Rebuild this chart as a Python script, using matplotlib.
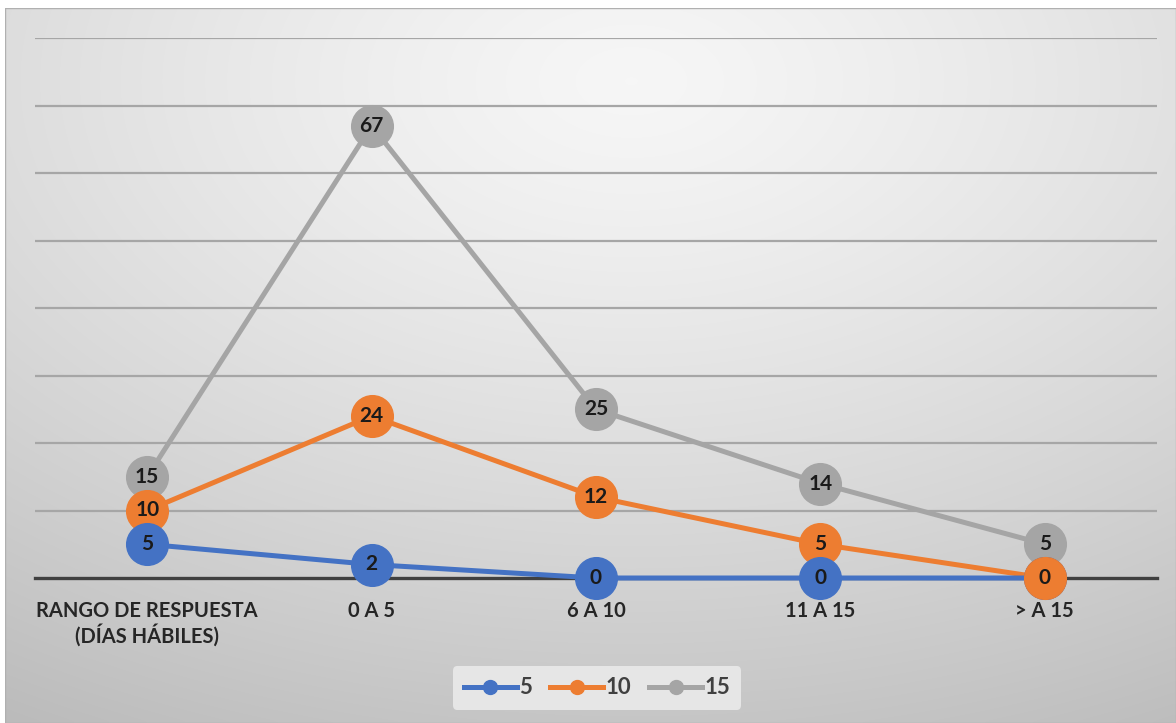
import numpy as np
import matplotlib
matplotlib.use("Agg")
import matplotlib.pyplot as plt
from matplotlib.lines import Line2D

categories = ["RANGO DE RESPUESTA\n(DÍAS HÁBILES)", "0 A 5", "6 A 10", "11 A 15", "> A 15"]
series_names = ["5", "10", "15"]
s5 = [5, 2, 0, 0, 0]
s10 = [10, 24, 12, 5, 0]
s15 = [15, 67, 25, 14, 5]
colors = ["#4472C4", "#ED7D31", "#A5A5A5"]

plt.rcParams['font.family'] = ['Lato', 'DejaVu Sans']

W, H = 1176, 723
fig = plt.figure(figsize=(W/100, H/100), dpi=100)
fig.patch.set_facecolor("white")

# background gradient panel
bg = fig.add_axes([5/W, 0, 1 - 5/W, 1 - 8/H])
bg.set_axis_off()
yy, xx = np.mgrid[0:200, 0:300]
cx, cy = 160, 20
r = np.sqrt(((xx - cx) / 300) ** 2 + ((yy - cy) / 200) ** 2)
val = 0.965 - 0.22 * np.clip(r, 0, 1.2) ** 1.3
img = np.dstack([val, val, val])
bg.imshow(img, aspect='auto', extent=[0, 1, 0, 1], origin='upper', interpolation='bicubic')
bg.set_xlim(0, 1); bg.set_ylim(0, 1)
bg.plot([0, 1, 1, 0, 0], [0, 0, 1, 1, 0], color="#b0b0b0", lw=1)

ax = fig.add_axes([35/W, 1 - 578/H, (1157-35)/W, (578-38)/H])
ax.set_facecolor("none")
x = np.arange(len(categories))
ax.set_xlim(-0.5, len(categories) - 0.5)
ax.set_ylim(0, 80)
ax.set_yticks(np.arange(10, 81, 10))
ax.yaxis.grid(True, color="#a6a6a6", lw=1.6)
ax.set_axisbelow(True)
for sp in ax.spines.values():
    sp.set_visible(False)
ax.axhline(0, color="#404040", lw=2.4, zorder=2, clip_on=False)
ax.tick_params(axis='y', left=False, labelleft=False)
ax.tick_params(axis='x', bottom=False, pad=13)
ax.set_xticks(x)
ax.set_xticklabels(categories, fontsize=14.5, fontweight='bold', color="#262626", linespacing=1.15)
for lbl in ax.get_xticklabels():
    lbl.set_verticalalignment('top')

zorders = [5, 4, 3]
for vals, col, z in zip([s5, s10, s15], colors, zorders):
    ax.plot(x, vals, color=col, lw=3.6, marker='o', markersize=30, zorder=z,
            clip_on=False, solid_capstyle='round')
for vals, z in zip([s5, s10, s15], zorders):
    for xi, v in zip(x, vals):
        ax.text(xi, v, str(v), ha='center', va='center', fontsize=15, fontweight='bold',
                color="#1a1a1a", zorder=z + 0.5)
# orange marker of last category sits on top of the blue one
ax.plot(x[-1:], s10[-1:], color=colors[1], marker='o', markersize=30, lw=0, zorder=6, clip_on=False)
ax.text(x[-1], s10[-1], str(s10[-1]), ha='center', va='center', fontsize=15, fontweight='bold',
        color="#1a1a1a", zorder=6.5)

handles = [Line2D([0], [0], color=c, lw=3.6, marker='o', markersize=10) for c in colors]
leg = fig.legend(handles, series_names, loc='center', bbox_to_anchor=(597/W, 1 - 688/H),
                 ncol=3, frameon=True, fontsize=16, handlelength=2.4, columnspacing=0.8,
                 handletextpad=0.1, borderpad=0.5)
leg.get_frame().set_facecolor("#e6e6e6")
leg.get_frame().set_edgecolor("none")
leg.get_frame().set_alpha(1)
for t in leg.get_texts():
    t.set_color("#404040")
    t.set_fontweight('bold')

fig.savefig("out.png", dpi=100)
